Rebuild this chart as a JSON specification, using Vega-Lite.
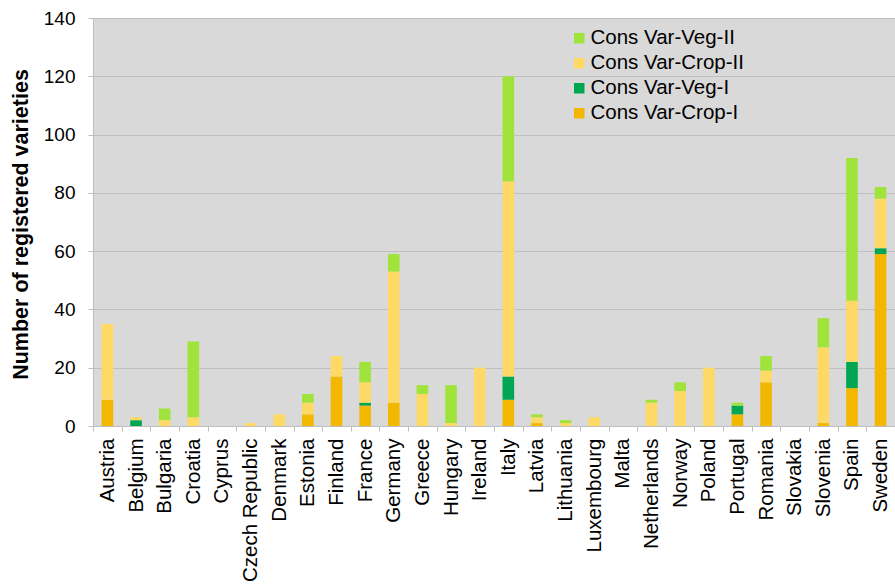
{
  "$schema": "https://vega.github.io/schema/vega-lite/v6.json",
  "width": 802,
  "height": 408,
  "autosize": {"type": "none"},
  "padding": {"left": 93, "top": 18, "right": 0, "bottom": 158},
  "background": "white",
  "config": {
    "view": {"fill": "#D9D9D9", "stroke": null},
    "font": "Liberation Sans"
  },
  "data": {
    "values": [
      {"country": "Austria", "series": "Cons Var-Crop-I", "kind": "Crop", "level": "I", "value": 9},
      {"country": "Austria", "series": "Cons Var-Crop-II", "kind": "Crop", "level": "II", "value": 26},
      {"country": "Belgium", "series": "Cons Var-Veg-I", "kind": "Veg", "level": "I", "value": 2},
      {"country": "Belgium", "series": "Cons Var-Crop-II", "kind": "Crop", "level": "II", "value": 1},
      {"country": "Bulgaria", "series": "Cons Var-Crop-II", "kind": "Crop", "level": "II", "value": 2},
      {"country": "Bulgaria", "series": "Cons Var-Veg-II", "kind": "Veg", "level": "II", "value": 4},
      {"country": "Croatia", "series": "Cons Var-Crop-II", "kind": "Crop", "level": "II", "value": 3},
      {"country": "Croatia", "series": "Cons Var-Veg-II", "kind": "Veg", "level": "II", "value": 26},
      {"country": "Cyprus", "series": "Cons Var-Crop-I", "kind": "Crop", "level": "I", "value": 0},
      {"country": "Czech Republic", "series": "Cons Var-Crop-II", "kind": "Crop", "level": "II", "value": 1},
      {"country": "Denmark", "series": "Cons Var-Crop-II", "kind": "Crop", "level": "II", "value": 4},
      {"country": "Estonia", "series": "Cons Var-Crop-I", "kind": "Crop", "level": "I", "value": 4},
      {"country": "Estonia", "series": "Cons Var-Crop-II", "kind": "Crop", "level": "II", "value": 4},
      {"country": "Estonia", "series": "Cons Var-Veg-II", "kind": "Veg", "level": "II", "value": 3},
      {"country": "Finland", "series": "Cons Var-Crop-I", "kind": "Crop", "level": "I", "value": 17},
      {"country": "Finland", "series": "Cons Var-Crop-II", "kind": "Crop", "level": "II", "value": 7},
      {"country": "France", "series": "Cons Var-Crop-I", "kind": "Crop", "level": "I", "value": 7},
      {"country": "France", "series": "Cons Var-Veg-I", "kind": "Veg", "level": "I", "value": 1},
      {"country": "France", "series": "Cons Var-Crop-II", "kind": "Crop", "level": "II", "value": 7},
      {"country": "France", "series": "Cons Var-Veg-II", "kind": "Veg", "level": "II", "value": 7},
      {"country": "Germany", "series": "Cons Var-Crop-I", "kind": "Crop", "level": "I", "value": 8},
      {"country": "Germany", "series": "Cons Var-Crop-II", "kind": "Crop", "level": "II", "value": 45},
      {"country": "Germany", "series": "Cons Var-Veg-II", "kind": "Veg", "level": "II", "value": 6},
      {"country": "Greece", "series": "Cons Var-Crop-II", "kind": "Crop", "level": "II", "value": 11},
      {"country": "Greece", "series": "Cons Var-Veg-II", "kind": "Veg", "level": "II", "value": 3},
      {"country": "Hungary", "series": "Cons Var-Crop-II", "kind": "Crop", "level": "II", "value": 1},
      {"country": "Hungary", "series": "Cons Var-Veg-II", "kind": "Veg", "level": "II", "value": 13},
      {"country": "Ireland", "series": "Cons Var-Crop-II", "kind": "Crop", "level": "II", "value": 20},
      {"country": "Italy", "series": "Cons Var-Crop-I", "kind": "Crop", "level": "I", "value": 9},
      {"country": "Italy", "series": "Cons Var-Veg-I", "kind": "Veg", "level": "I", "value": 8},
      {"country": "Italy", "series": "Cons Var-Crop-II", "kind": "Crop", "level": "II", "value": 67},
      {"country": "Italy", "series": "Cons Var-Veg-II", "kind": "Veg", "level": "II", "value": 36},
      {"country": "Latvia", "series": "Cons Var-Crop-I", "kind": "Crop", "level": "I", "value": 1},
      {"country": "Latvia", "series": "Cons Var-Crop-II", "kind": "Crop", "level": "II", "value": 2},
      {"country": "Latvia", "series": "Cons Var-Veg-II", "kind": "Veg", "level": "II", "value": 1},
      {"country": "Lithuania", "series": "Cons Var-Crop-II", "kind": "Crop", "level": "II", "value": 1},
      {"country": "Lithuania", "series": "Cons Var-Veg-II", "kind": "Veg", "level": "II", "value": 1},
      {"country": "Luxembourg", "series": "Cons Var-Crop-II", "kind": "Crop", "level": "II", "value": 3},
      {"country": "Malta", "series": "Cons Var-Crop-I", "kind": "Crop", "level": "I", "value": 0},
      {"country": "Netherlands", "series": "Cons Var-Crop-II", "kind": "Crop", "level": "II", "value": 8},
      {"country": "Netherlands", "series": "Cons Var-Veg-II", "kind": "Veg", "level": "II", "value": 1},
      {"country": "Norway", "series": "Cons Var-Crop-II", "kind": "Crop", "level": "II", "value": 12},
      {"country": "Norway", "series": "Cons Var-Veg-II", "kind": "Veg", "level": "II", "value": 3},
      {"country": "Poland", "series": "Cons Var-Crop-II", "kind": "Crop", "level": "II", "value": 20},
      {"country": "Portugal", "series": "Cons Var-Crop-I", "kind": "Crop", "level": "I", "value": 4},
      {"country": "Portugal", "series": "Cons Var-Veg-I", "kind": "Veg", "level": "I", "value": 3},
      {"country": "Portugal", "series": "Cons Var-Veg-II", "kind": "Veg", "level": "II", "value": 1},
      {"country": "Romania", "series": "Cons Var-Crop-I", "kind": "Crop", "level": "I", "value": 15},
      {"country": "Romania", "series": "Cons Var-Crop-II", "kind": "Crop", "level": "II", "value": 4},
      {"country": "Romania", "series": "Cons Var-Veg-II", "kind": "Veg", "level": "II", "value": 5},
      {"country": "Slovakia", "series": "Cons Var-Crop-I", "kind": "Crop", "level": "I", "value": 0},
      {"country": "Slovenia", "series": "Cons Var-Crop-I", "kind": "Crop", "level": "I", "value": 1},
      {"country": "Slovenia", "series": "Cons Var-Crop-II", "kind": "Crop", "level": "II", "value": 26},
      {"country": "Slovenia", "series": "Cons Var-Veg-II", "kind": "Veg", "level": "II", "value": 10},
      {"country": "Spain", "series": "Cons Var-Crop-I", "kind": "Crop", "level": "I", "value": 13},
      {"country": "Spain", "series": "Cons Var-Veg-I", "kind": "Veg", "level": "I", "value": 9},
      {"country": "Spain", "series": "Cons Var-Crop-II", "kind": "Crop", "level": "II", "value": 21},
      {"country": "Spain", "series": "Cons Var-Veg-II", "kind": "Veg", "level": "II", "value": 49},
      {"country": "Sweden", "series": "Cons Var-Crop-I", "kind": "Crop", "level": "I", "value": 59},
      {"country": "Sweden", "series": "Cons Var-Veg-I", "kind": "Veg", "level": "I", "value": 2},
      {"country": "Sweden", "series": "Cons Var-Crop-II", "kind": "Crop", "level": "II", "value": 17},
      {"country": "Sweden", "series": "Cons Var-Veg-II", "kind": "Veg", "level": "II", "value": 4}
    ]
  },
  "transform": [
    {
      "stack": "value",
      "groupby": ["country"],
      "sort": [
        {"field": "level", "order": "ascending"},
        {"field": "kind", "order": "ascending"}
      ],
      "as": ["v0", "v1"]
    }
  ],
  "mark": {"type": "bar"},
  "encoding": {
    "x": {
      "field": "country",
      "type": "nominal",
      "sort": null,
      "scale": {"paddingInner": 0.594, "paddingOuter": 0.3},
      "axis": {
        "title": null,
        "labelAngle": -90,
        "labelAlign": "right",
        "labelBaseline": "middle",
        "labelFontSize": 20.5,
        "labelColor": "#000000",
        "labelPadding": 7,
        "labelOverlap": false,
        "tickOffset": -14.32,
        "labelOffset": 14.32,
        "tickSize": 5,
        "tickColor": "#BFBFBF",
        "domainColor": "#BFBFBF",
        "grid": false
      }
    },
    "y": {
      "field": "v0",
      "type": "quantitative",
      "scale": {"domain": [0, 140], "nice": false},
      "axis": {
        "title": "Number of registered varieties",
        "titleFontSize": 21.5,
        "titleFontWeight": "bold",
        "titleColor": "#000000",
        "titleAngle": -90,
        "titleAlign": "center",
        "titleBaseline": "middle",
        "titleX": -72,
        "titleY": 206,
        "values": [0, 20, 40, 60, 80, 100, 120, 140],
        "labelFontSize": 19,
        "labelColor": "#000000",
        "labelPadding": 13,
        "tickSize": 5,
        "tickColor": "#BFBFBF",
        "domainColor": "#BFBFBF",
        "gridColor": "#BFBFBF",
        "gridWidth": 1
      }
    },
    "y2": {"field": "v1"},
    "color": {
      "field": "series",
      "type": "nominal",
      "scale": {
        "domain": ["Cons Var-Veg-II", "Cons Var-Crop-II", "Cons Var-Veg-I", "Cons Var-Crop-I"],
        "range": ["#9FE33B", "#FFD966", "#00A651", "#F2B800"]
      },
      "legend": {
        "title": null,
        "orient": "none",
        "legendX": 476,
        "legendY": 10,
        "symbolType": "square",
        "symbolSize": 110,
        "symbolStrokeWidth": 0,
        "labelFontSize": 20.5,
        "labelColor": "#000000",
        "labelOffset": 1,
        "rowPadding": 4
      }
    }
  }
}
